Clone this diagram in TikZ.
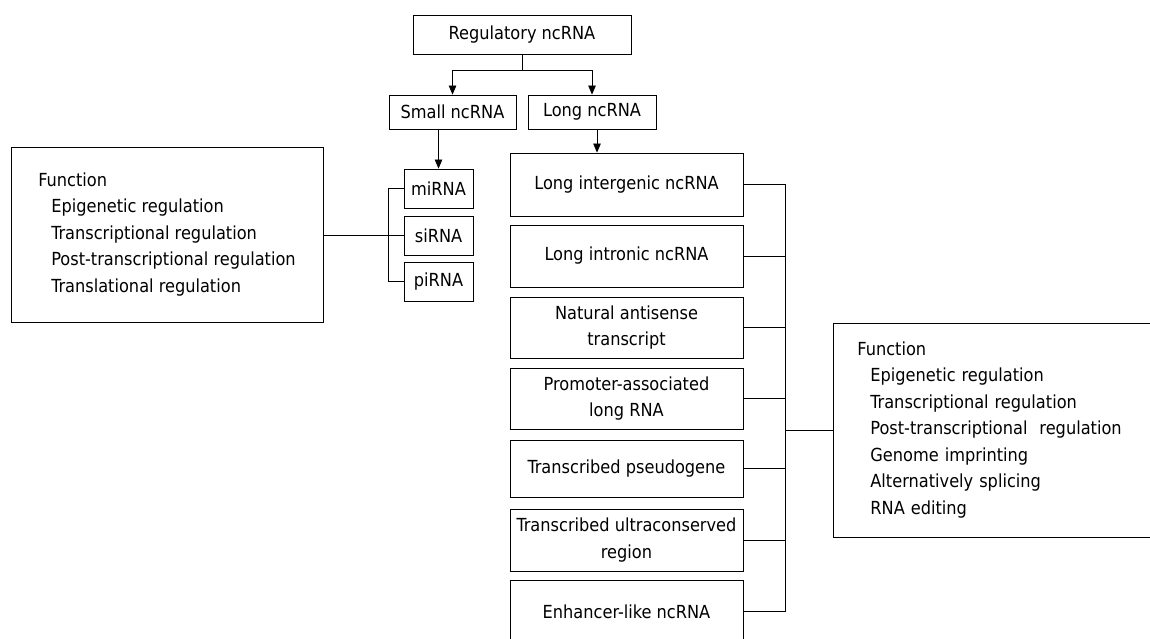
\documentclass[tikz,border=0pt]{standalone}
\usepackage{fontspec}
\setmainfont{DejaVu Sans Condensed}
\usetikzlibrary{arrows.meta}
\begin{document}
\begin{tikzpicture}[x=1pt, y=-1pt, line width=.8pt,
		box/.style={draw, inner sep=2pt, align=center, font=\fontsize{18}{26.5}\selectfont},
		lbox/.style={box, minimum width=233},
		arr/.style={-{Triangle[length=9pt, width=7.5pt]}}]
		\useasboundingbox (0,0) rectangle (1150,639);
		\clip (0,0) rectangle (1150,639);
		\node[box, minimum width=218, minimum height=39] (reg) at (522,34.5) {Regulatory ncRNA};
		\node[box, minimum width=127, minimum height=34] (small) at (452.5,112) {Small ncRNA};
		\node[box, minimum width=128, minimum height=34] (long) at (592,112) {Long ncRNA};
		\node[box, minimum width=69, minimum height=39] (mi) at (438.5,188.5) {miRNA};
		\node[box, minimum width=69, minimum height=39] (si) at (438.5,235.5) {siRNA};
		\node[box, minimum width=69, minimum height=39] (pi) at (438.5,281.5) {piRNA};
		\node[box, align=left, minimum width=312, minimum height=175] (lf) at (167,234.5) {Function\\
			\hspace*{13pt}Epigenetic regulation\\
			\hspace*{13pt}Transcriptional regulation\\
			\hspace*{13pt}Post-transcriptional regulation\\
			\hspace*{13pt}Translational regulation};
		\node[lbox, minimum height=63] (lin) at (626.5,184.5) {Long intergenic ncRNA};
		\node[lbox, minimum height=62] (lint) at (626.5,256) {Long intronic ncRNA};
		\node[lbox, minimum height=61] (nat) at (626.5,327.5) {Natural antisense\\transcript};
		\node[lbox, minimum height=61] (prom) at (626.5,398.5) {Promoter-associated\\long RNA};
		\node[lbox, minimum height=57] (pseudo) at (626.5,468.5) {Transcribed pseudogene};
		\node[lbox, minimum height=62] (ucr) at (626.5,540) {Transcribed ultraconserved\\region};
		\node[lbox, minimum height=62] (enh) at (626.5,611.5) {Enhancer-like ncRNA};
		\node[box, anchor=west, align=left, text width=290, inner xsep=24, minimum height=214] (rf) at (833,430) {Function\\
			\hspace*{13pt}Epigenetic regulation\\
			\hspace*{13pt}Transcriptional regulation\\
			\hspace*{13pt}Post-transcriptional\ \ regulation\\
			\hspace*{13pt}Genome imprinting\\
			\hspace*{13pt}Alternatively splicing\\
			\hspace*{13pt}RNA editing};
		\draw (reg.south) -- ++(0,16) coordinate (fork);
		\draw[arr] (fork) -| (small.north);
		\draw[arr] (fork) -| (long.north);
		\draw[arr] (small.south -| mi.north) -- (mi.north);
		\draw[arr] ([xshift=5]long.south) -- ([xshift=5]long.south |- lin.north);
		\draw (mi.west) -- ++(-15,0) |- (pi.west);
		\draw (lf.east |- si.west) -- (si.west);
		\draw (lin.east) -- ++(42,0) coordinate (rtop) -- (rtop |- enh.east);
		\foreach \n in {lint, nat, prom, pseudo, ucr, enh}
			\draw (\n.east) -- (\n.east -| rtop);
		\draw (rtop |- rf.west) -- (rf.west);
\end{tikzpicture}
\end{document}
